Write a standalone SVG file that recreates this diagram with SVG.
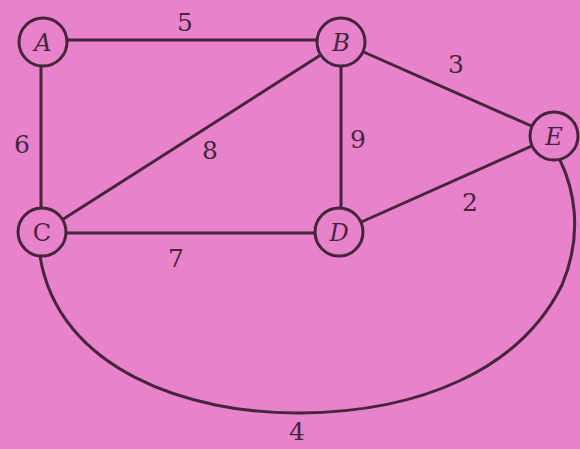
<svg xmlns="http://www.w3.org/2000/svg" width="580" height="449" viewBox="0 0 580 449">
<style>
.e{stroke:#46263a;stroke-width:3;fill:none;stroke-linecap:round}
.n circle{fill:#e882cb;stroke:#46263a;stroke-width:3}
.n text{font-family:"DejaVu Serif","Liberation Serif",serif;font-style:italic;font-size:24px;fill:#46263a;text-anchor:middle}
.w{font-family:"DejaVu Serif","Liberation Serif",serif;font-size:25px;fill:#46263a;text-anchor:middle}
</style>
<rect width="580" height="449" fill="#e882cb"/>
<g id="connectors">
<line class="e" x1="43" y1="40" x2="341" y2="40"/>
<line class="e" x1="41" y1="42" x2="41" y2="232"/>
<line class="e" x1="341" y1="42" x2="43" y2="232"/>
<line class="e" x1="341" y1="42" x2="341" y2="232"/>
<line class="e" x1="341" y1="42" x2="554" y2="136"/>
<line class="e" x1="339" y1="232" x2="554" y2="136"/>
<line class="e" x1="43" y1="233" x2="339" y2="233"/>
<path class="e" d="M40 256 C58 370 190 414 300 413 C420 412 520 370 562 285 C585 230 572 185 560 160"/>
<text class="w" x="185" y="31">5</text>
<text class="w" x="22" y="153">6</text>
<text class="w" x="210" y="159">8</text>
<text class="w" x="358" y="148">9</text>
<text class="w" x="456" y="73">3</text>
<text class="w" x="470" y="211">2</text>
<text class="w" x="176" y="267">7</text>
<text class="w" x="297" y="440">4</text>
</g>
<g id="A" class="n"><circle cx="43" cy="42" r="24"/><text x="43" y="51">A</text></g>
<g id="B" class="n"><circle cx="341" cy="42" r="24"/><text x="341" y="51">B</text></g>
<g id="C" class="n"><circle cx="42" cy="232" r="24"/><text x="42" y="241" style="font-style:normal">C</text></g>
<g id="D" class="n"><circle cx="339" cy="232" r="24"/><text x="339" y="241">D</text></g>
<g id="E" class="n"><circle cx="554" cy="136" r="24"/><text x="554" y="145">E</text></g>
</svg>
